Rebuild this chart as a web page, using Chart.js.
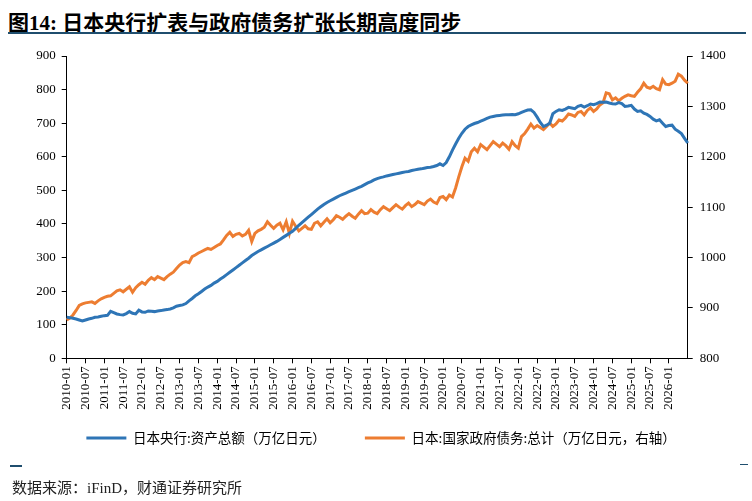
<!DOCTYPE html>
<html><head><meta charset="utf-8">
<script src="https://cdn.jsdelivr.net/npm/chart.js@4/dist/chart.umd.min.js"></script>
<style>
html,body{margin:0;padding:0;background:#fff;width:752px;height:501px;overflow:hidden;}
#title{position:absolute;left:8px;top:6px;font:bold 21px "Liberation Serif","Noto Sans CJK SC";color:#000;white-space:nowrap;}
#rule{position:absolute;left:8px;top:32px;width:738px;height:2px;background:#1F4E6E;}
#wrap{position:absolute;left:0;top:40px;width:752px;height:440px;}
#f1{position:absolute;left:10px;top:465px;width:12px;height:2px;background:#1F4E6E}
#f2{position:absolute;left:740px;top:464px;width:8px;height:1px;background:#1F4E6E}
#src{position:absolute;left:12px;top:476px;font:15px "Liberation Serif","Noto Sans CJK SC";color:#222;white-space:nowrap;}
</style></head>
<body>
<div id="title">图14: 日本央行扩表与政府债务扩张长期高度同步</div>
<div id="rule"></div>
<div id="wrap"><canvas id="c" width="752" height="440"></canvas></div>
<div id="f1"></div><div id="f2"></div>
<div id="src">数据来源：iFinD，财通证券研究所</div>
<script>
const startYear = 2010;
const lastYear = 2026, lastMonth = 7;
const categories = [];
for (let y = startYear; y <= lastYear; y++) {
  for (let m = 1; m <= 12; m++) {
    if (y === lastYear && m > lastMonth) break;
    categories.push(y + '-' + String(m).padStart(2, '0'));
  }
}
const seriesNames = ['日本央行:资产总额（万亿日元）', '日本:国家政府债务:总计（万亿日元，右轴）'];
// 日本央行资产总额（万亿日元），2010-01 ~ 2026-07
const bojAssets = [
  122,121,119,117,114,111,114,117,119,122,123,125,
  127,128,140,136,132,130,129,133,139,134,132,143,
  138,137,141,140,139,141,142,144,145,147,150,155,
  157,159,163,171,178,186,192,199,206,212,217,224,
  229,236,242,249,256,263,270,277,284,291,298,306,
  312,318,323,328,333,338,343,348,354,360,366,372,
  378,387,396,404,412,420,428,436,444,451,458,464,
  469,474,479,484,488,492,496,500,504,508,512,517,
  522,526,531,535,538,540,543,545,547,549,551,553,
  555,556,559,561,563,564,566,568,569,571,574,579,
  574,583,600,620,638,655,670,682,690,695,699,702,
  706,710,714,718,720,722,723,724,725,725,726,725,
  728,732,736,739,740,732,718,702,690,694,700,728,
  735,740,738,742,747,745,743,750,753,748,752,757,
  755,758,763,762,763,760,758,757,761,758,750,751,
  753,742,735,737,730,726,720,712,707,710,700,690,
  693,694,682,676,669,655,641
];
// 日本国家政府债务总计（万亿日元），2010-01 ~ 2026-07
const govDebt = [
  876,880,886,895,905,908,910,911,912,909,914,918,
  921,923,924,929,934,936,932,937,942,931,940,946,
  951,947,955,960,956,962,959,956,962,967,971,978,
  985,990,992,990,1002,1005,1009,1012,1015,1018,1016,1020,
  1024,1027,1035,1044,1050,1042,1046,1048,1043,1046,1054,1032,
  1048,1053,1056,1060,1071,1064,1058,1064,1068,1055,1071,1048,
  1072,1062,1053,1058,1063,1057,1056,1068,1071,1063,1070,1077,
  1069,1075,1083,1080,1076,1082,1087,1082,1078,1086,1093,1087,
  1088,1095,1090,1087,1095,1101,1097,1093,1099,1105,1100,1096,
  1103,1108,1101,1105,1111,1108,1105,1112,1116,1110,1107,1119,
  1121,1115,1124,1120,1138,1160,1180,1197,1191,1210,1217,1210,
  1224,1219,1214,1222,1230,1225,1220,1227,1222,1215,1230,1222,
  1217,1240,1246,1255,1265,1257,1262,1258,1254,1260,1267,1260,
  1265,1273,1271,1277,1285,1283,1280,1288,1290,1283,1292,1297,
  1290,1295,1303,1307,1327,1325,1313,1317,1311,1316,1320,1323,
  1321,1320,1328,1335,1346,1338,1336,1340,1335,1333,1353,1344,
  1343,1346,1350,1364,1360,1352,1346
];
const leftTicks = [0, 900, 100];
const rightTicks = [800, 1400, 100];
const colors = ['#2E75B6', '#ED7D31'];

const tickFont = {family: 'Liberation Serif', size: 13};
const legendShift = {plugin: null};
const legendPlace = {
  id: 'legendPlace',
  afterLayout(chart) {
    const lg = chart.legend;
    if (!lg) return;
    const dy = 24, dx = 5;
    lg.top -= dy; lg.bottom -= dy;
    lg.left += dx; lg.right += dx;
  }
};
new Chart(document.getElementById('c'), {
  type: 'line',
  data: {
    labels: categories,
    datasets: [
      {label: seriesNames[0], data: bojAssets, borderColor: colors[0], backgroundColor: colors[0], borderWidth: 3, pointRadius: 0, yAxisID: 'y', tension: 0},
      {label: seriesNames[1], data: govDebt, borderColor: colors[1], backgroundColor: colors[1], borderWidth: 3, pointRadius: 0, yAxisID: 'y1', tension: 0}
    ]
  },
  plugins: [legendPlace],
  options: {
    responsive: false,
    animation: false,
    layout: {padding: {top: 16, left: 0, right: 0, bottom: 1.2}},
    plugins: {
      tooltip: {enabled: false},
      legend: {
        position: 'bottom',
        labels: {
          boxWidth: 40, boxHeight: 3, padding: 39, color: '#000',
          font: {family: 'Noto Sans CJK SC', size: 13.5},
          generateLabels: (chart) => chart.data.datasets.map((d, i) => ({
            text: d.label, fillStyle: d.borderColor, strokeStyle: d.borderColor,
            lineWidth: 0, datasetIndex: i, hidden: false, fontColor: '#000'
          }))
        }
      }
    },
    scales: {
      x: {
        type: 'category', offset: false,
        grid: {display: true, drawOnChartArea: false, drawTicks: true, tickLength: 5, color: '#000'},
        border: {display: true, color: '#000', width: 1},
        ticks: {autoSkip: false, maxRotation: 90, minRotation: 90, padding: 3, color: '#000', font: tickFont,
          callback: (v, i) => (i % 6 === 0 && i < categories.length - 1) ? categories[i] : null},
        afterFit: (s) => { s.height = 58; }
      },
      y: {
        position: 'left', min: leftTicks[0], max: leftTicks[1],
        grid: {display: true, drawOnChartArea: false, drawTicks: true, tickLength: 5, color: '#000'},
        border: {display: true, color: '#000', width: 1},
        ticks: {stepSize: leftTicks[2], padding: 6, color: '#000', font: tickFont, callback: (v) => String(v)},
        afterFit: (s) => { s.width = 66.7; }
      },
      y1: {
        position: 'right', min: rightTicks[0], max: rightTicks[1],
        grid: {display: true, drawOnChartArea: false, drawTicks: true, tickLength: 5, color: '#000'},
        border: {display: true, color: '#000', width: 1},
        ticks: {stepSize: rightTicks[2], padding: 7, color: '#000', font: tickFont, callback: (v) => String(v)},
        afterFit: (s) => { s.width = 64.3; }
      }
    }
  }
});
</script>
</body></html>
